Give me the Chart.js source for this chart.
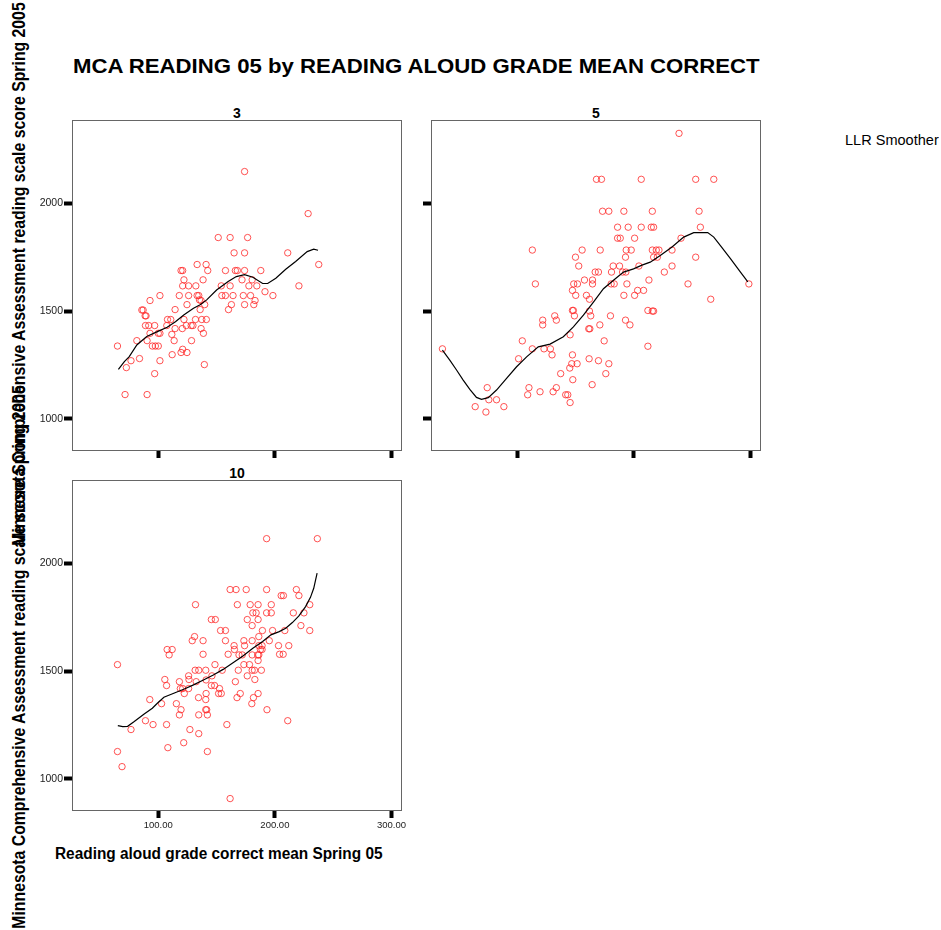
<!DOCTYPE html>
<html>
<head>
<meta charset="utf-8">
<script src="https://cdn.jsdelivr.net/npm/chart.js@4.4.1/dist/chart.umd.min.js"></script>
<style>
body { margin: 0; background: #fff; width: 941px; height: 930px; position: relative; overflow: hidden; font-family: "Liberation Sans", Arial, sans-serif; }
canvas { position: absolute; }
.txt { position: absolute; white-space: nowrap; color: #000; line-height: 1; }
</style>
</head>
<body>
<div class="txt" id="title" style="left:73px; top:55px; font-size:21px; font-weight:bold; transform-origin:left center;">MCA READING 05 by READING ALOUD GRADE MEAN CORRECT</div>
<div class="txt" id="legend" style="left:845px; top:132px; font-size:15px; transform-origin:left center;">LLR Smoother</div>
<div class="txt" id="xtitle" style="left:55px; top:846px; font-size:16px; font-weight:bold; transform-origin:left center;">Reading aloud grade correct mean Spring 05</div>
<div class="txt ytitle" id="ytitle1" style="left:19.5px; top:273.5px; font-size:17.5px; font-weight:bold;">Minnesota Comprehensive Assessment reading scale score Spring 2005</div>
<div class="txt ytitle" id="ytitle2" style="left:19.5px; top:656.5px; font-size:17.5px; font-weight:bold;">Minnesota Comprehensive Assessment reading scale score Spring 2005</div>
<div class="txt" id="p3" style="left:237px; top:106px; font-size:14px; font-weight:bold; transform:translateX(-50%);">3</div>
<div class="txt" id="p5" style="left:596px; top:106px; font-size:14px; font-weight:bold; transform:translateX(-50%);">5</div>
<div class="txt" id="p10" style="left:237px; top:466px; font-size:14px; font-weight:bold; transform:translateX(-50%);">10</div>

<canvas id="c3" width="382" height="370" style="left:30px; top:110px;"></canvas>
<canvas id="c5" width="382" height="370" style="left:389px; top:110px;"></canvas>
<canvas id="c10" width="382" height="370" style="left:30px; top:470px;"></canvas>

<script>
const panelNames = ['3', '5', '10'];
const xTicks = [100, 200, 300];
const yTicks = [1000, 1500, 2000];

// grade 3
const g3X = [174, 228.5, 151.4, 161.6, 176.6, 165, 174, 211, 133.3, 141, 237.6,
    119.5, 120.9, 142.4, 157.6, 166.1, 167.8, 174, 187.9,
    122, 138.4, 171.8, 180.5,
    120.9, 126, 132.2, 154, 161.6, 177.7, 184.5, 220.6, 191.5,
    101.4, 118, 126, 133.3, 134.7, 154.5, 157.6, 164.1, 172.9, 179.1, 198.3,
    92.9, 135.3, 136.7, 183, 124.6, 139.8, 162.7, 174, 181.9,
    114.4, 135.9, 160.2, 85.9, 87, 88.7, 89.5,
    107.9, 110.7, 122, 131.9, 137.3, 141.2,
    89, 91.8, 96.9, 107.3, 124, 128.2, 129.7,
    114.4, 120.6, 136.7, 92.9, 100, 101.4, 111.6, 138.7,
    81.6, 90.4, 113.6, 128.5, 65, 94.9, 97.5, 100,
    120.9, 119.5, 124.6, 111.9, 83.9, 76.6, 101.4, 139.5, 72.6, 96.9, 71.5, 90.4];
const g3Y = [2147, 1952, 1841, 1841, 1841, 1770, 1770, 1770, 1716, 1716, 1716,
    1688, 1688, 1688, 1688, 1688, 1688, 1688, 1688,
    1645, 1645, 1645, 1645,
    1617, 1617, 1617, 1617, 1617, 1617, 1617, 1617, 1590,
    1572, 1572, 1572, 1572, 1572, 1572, 1572, 1572, 1572, 1572, 1572,
    1549, 1552, 1549, 1549, 1530, 1530, 1530, 1530, 1530,
    1507, 1507, 1507, 1505, 1505, 1478, 1478,
    1461, 1461, 1461, 1461, 1461, 1461,
    1433, 1433, 1433, 1433, 1433, 1433, 1433,
    1419, 1419, 1419, 1397, 1397, 1397, 1392, 1397,
    1363, 1363, 1363, 1363, 1338, 1338, 1338, 1338,
    1323, 1308, 1308, 1298, 1280, 1270, 1270, 1252, 1238, 1210, 1113, 1113];
const g3FitX = [65.8, 70.9, 75.1, 81.6, 90.1, 99.2, 107.6, 114.7, 121.8, 130.2, 135.9, 141.5, 150, 159.9, 166.9, 174, 181.1, 189.5, 193.8, 200.8, 209.3, 217.8, 227.7, 233.3, 237];
const g3FitY = [1230, 1266, 1289, 1343, 1382, 1405, 1425, 1451, 1482, 1513, 1529, 1552, 1598, 1637, 1660, 1669, 1657, 1628, 1628, 1652, 1694, 1730, 1776, 1787, 1782];

// grade 5
const g5X = [238.7, 167.9, 172.2, 206.3, 253, 268.5,
    173.1, 178.5, 191.4, 215.8, 255.9,
    186, 195.1, 206.3, 214.9, 216.9, 257,
    186, 188.3, 200.6, 240.4,
    193.4, 197.7, 215.8, 219.2, 221.5, 232.7, 112.9, 155.6, 171.1,
    149.9, 192.8, 216.9, 220.1, 253,
    152.7, 182.2, 187.7, 204.3, 232.7,
    166.8, 169.6, 180.8, 190.3, 193.1, 226.1,
    157.6, 164.5, 212.9,
    115.5, 148.4, 151.6, 164.5, 180.5, 183.1, 194, 246.4, 298.6,
    147.3, 203.2, 208.3, 150.1, 159.3, 191.4, 200.6, 161.9, 265.9,
    147.3, 148.1, 161.9, 212, 215.8, 216.9,
    149, 132.1, 163, 179.9, 121.8, 133.5, 192.8, 121.8, 196.6, 170.8,
    161.3, 162.2, 145.3, 104.3, 174.5, 212,
    35.8, 112.9, 122.9, 128.4, 129.8, 147.3,
    101.1, 161.6, 169.6, 146.7, 151.3, 178.5, 145, 137.2, 175.9,
    147.6, 164.2, 74.2, 110, 133.5,
    119.5, 130.7, 108.9, 141.5, 143.3,
    75.6, 82.2, 145.3, 63.9, 88.5, 73.1];
const g5Y = [2324, 2111, 2111, 2111, 2111, 2111,
    1963, 1963, 1963, 1963, 1963,
    1889, 1889, 1889, 1889, 1889, 1889,
    1838, 1838, 1838, 1838,
    1783, 1783, 1783, 1783, 1783, 1783, 1783, 1783, 1783,
    1750, 1750, 1750, 1750, 1750,
    1709, 1709, 1709, 1709, 1709,
    1681, 1681, 1681, 1681, 1681, 1681,
    1644, 1644, 1644,
    1626, 1626, 1626, 1626, 1626, 1626, 1626, 1626, 1626,
    1596, 1596, 1596, 1573, 1573, 1573, 1573, 1555, 1555,
    1503, 1503, 1500, 1503, 1500, 1500,
    1478, 1478, 1478, 1478, 1458, 1458, 1458, 1436, 1436, 1436,
    1418, 1418, 1390, 1362, 1362, 1337,
    1325, 1325, 1325, 1325, 1297, 1297,
    1279, 1279, 1270, 1256, 1256, 1256, 1236, 1210, 1210,
    1182, 1159, 1145, 1145, 1145,
    1126, 1126, 1112, 1112, 1112,
    1089, 1089, 1076, 1057, 1057, 1032];
const g5FitX = [35.8, 42.1, 47.9, 53.6, 59.3, 65, 69.3, 75.1, 82.2, 90.8, 99.4, 108, 118, 128.1, 139.5, 148.1, 156.7, 165.3, 173.9, 182.5, 191.1, 199.7, 206.9, 214, 222.6, 232.7, 242.7, 251.3, 263.3, 268.5, 274.2, 282.8, 291.4, 297.7];
const g5FitY = [1319, 1273, 1227, 1180, 1137, 1100, 1091, 1099, 1134, 1188, 1242, 1288, 1334, 1347, 1381, 1427, 1481, 1542, 1604, 1643, 1681, 1696, 1713, 1727, 1758, 1797, 1843, 1864, 1864, 1843, 1804, 1743, 1681, 1635];

// grade 10
const g10X = [192.9, 236.4,
    161.6, 166.7, 175.4, 192.9, 218.4,
    205.4, 207.3, 220.6,
    131.9, 167.8, 178.8, 185.6, 196.9, 229.9,
    181.1, 183.9, 192.9, 196.9, 215.8, 224.9,
    145.5, 148.9, 176.3, 185.6, 180.5, 222.3,
    153.4, 157.6, 189.3, 198, 208.5, 229.9, 131.1, 186.2,
    129.1, 138.4, 157.6, 173.4, 180.5, 195.2,
    165, 174, 186.2, 189, 203.1, 211.9,
    107.6, 111.9, 165.3, 187.6, 189,
    109.3, 138.4, 159.9, 169.2, 172, 180.5, 185.3, 186.2, 204, 207.1,
    185.6, 148.6, 65, 173.4, 178.2,
    131.6, 134.7, 140.7, 154.8, 168.6, 180.5, 182.5, 188.4,
    126, 146, 176.3,
    105.6, 118.1, 126.3, 132.5, 141, 166.1, 182.8,
    107.1, 145.5, 148.3, 118.9, 120.9, 126, 152.5,
    122.3, 141, 151.7, 154, 170.3, 185.6,
    92.7, 134.5, 140.7, 167.5, 181.6, 102.8, 115.5, 180.2,
    119.5, 140.7, 141.5, 193.2, 118.1, 134.7, 142.1,
    89, 211, 95.5, 107.1, 158.8, 76.6, 127.1,
    134.7, 121.8, 108.2, 65, 142.1, 68.9, 161.6];
const g10Y = [2114, 2114,
    1878, 1878, 1878, 1878, 1878,
    1850, 1850, 1850,
    1808, 1808, 1808, 1808, 1808, 1808,
    1770, 1770, 1770, 1770, 1770, 1770,
    1739, 1739, 1739, 1739, 1711, 1711,
    1688, 1688, 1688, 1688, 1688, 1688, 1660, 1660,
    1641, 1641, 1641, 1641, 1641, 1641,
    1618, 1618, 1618, 1618, 1618, 1618,
    1600, 1600, 1600, 1600, 1600,
    1575, 1578, 1578, 1575, 1575, 1575, 1575, 1575, 1578, 1578,
    1549, 1530, 1530, 1530, 1530,
    1504, 1504, 1504, 1504, 1504, 1504, 1504, 1504,
    1478, 1478, 1478,
    1461, 1451, 1461, 1451, 1459, 1451, 1461,
    1433, 1433, 1433, 1419, 1419, 1419, 1419,
    1396, 1396, 1396, 1396, 1396, 1396,
    1368, 1377, 1368, 1377, 1377, 1349, 1349, 1349,
    1321, 1321, 1321, 1321, 1297, 1297, 1297,
    1270, 1270, 1252, 1252, 1252, 1229, 1229,
    1210, 1168, 1145, 1127, 1127, 1057, 909];
const g10FitX = [65.3, 69.5, 73.7, 79.4, 87.9, 94.9, 99.2, 104.8, 113.3, 121.8, 130.2, 138.7, 147.2, 155.6, 164.1, 172.6, 181.1, 189.5, 196.6, 203.7, 209.3, 215, 220.6, 226.3, 230.5, 233.3, 236.2];
const g10FitY = [1247, 1243, 1244, 1266, 1301, 1328, 1351, 1379, 1397, 1416, 1436, 1459, 1482, 1508, 1539, 1570, 1606, 1637, 1668, 1683, 1699, 1725, 1756, 1799, 1842, 1884, 1954];

const fontFamily = '"Liberation Sans", Arial, sans-serif';

// grey box round each plot area
const framePlugin = {
    id: 'frame',
    beforeDatasetsDraw(chart) {
        const a = chart.chartArea;
        const ctx = chart.ctx;
        ctx.save();
        ctx.strokeStyle = '#666';
        ctx.lineWidth = 1;
        ctx.strokeRect(a.left + 0.5, a.top + 0.5, a.right - a.left - 1, a.bottom - a.top);
        ctx.restore();
    }
};

function pairs(xs, ys) {
    return xs.map((x, i) => ({ x: x, y: ys[i] }));
}

function makePanel(id, xs, ys, fitXs, fitYs, showYLabels, showXLabels) {
    const ctx = document.getElementById(id).getContext('2d');
    return new Chart(ctx, {
        type: 'scatter',
        data: {
            datasets: [
                {
                    label: 'LLR Smoother',
                    data: pairs(fitXs, fitYs),
                    showLine: true,
                    borderColor: '#000',
                    borderWidth: 1.2,
                    pointRadius: 0,
                    tension: 0,
                    fill: false
                },
                {
                    label: 'points',
                    data: pairs(xs, ys),
                    pointRadius: 3.2,
                    pointBorderWidth: 1,
                    borderColor: 'rgba(255,40,40,0.8)',
                    backgroundColor: 'rgba(0,0,0,0)'
                }
            ]
        },
        options: {
            responsive: false,
            animation: false,
            layout: { padding: { left: 0, top: 10, right: 10, bottom: 0 } },
            plugins: { legend: { display: false }, tooltip: { enabled: false }, title: { display: false } },
            scales: {
                x: {
                    type: 'linear', min: 26, max: 309,
                    afterBuildTicks: s => { s.ticks = xTicks.map(v => ({ value: v })); },
                    afterFit: s => { s.height = 30; },
                    border: { display: false },
                    grid: { drawOnChartArea: false, drawTicks: true, tickLength: 8, tickWidth: 4, tickColor: '#000', color: '#000' },
                    ticks: {
                        autoSkip: false, maxRotation: 0, padding: 2,
                        color: showXLabels ? '#222' : 'rgba(0,0,0,0)',
                        font: { family: fontFamily, size: 9.5 },
                        callback: v => Number(v).toFixed(2)
                    }
                },
                y: {
                    type: 'linear', min: 856, max: 2386,
                    afterBuildTicks: s => { s.ticks = yTicks.map(v => ({ value: v })); },
                    afterFit: s => { s.width = 42; },
                    border: { display: false },
                    grid: { drawOnChartArea: false, drawTicks: true, tickLength: 8, tickWidth: 4, tickColor: '#000', color: '#000' },
                    ticks: {
                        autoSkip: false, padding: 1,
                        color: showYLabels ? '#222' : 'rgba(0,0,0,0)',
                        font: { family: fontFamily, size: 10.5 },
                        callback: v => String(v)
                    }
                }
            }
        },
        plugins: [framePlugin]
    });
}

makePanel('c3', g3X, g3Y, g3FitX, g3FitY, true, false);
makePanel('c5', g5X, g5Y, g5FitX, g5FitY, false, false);
makePanel('c10', g10X, g10Y, g10FitX, g10FitY, true, true);

// squeeze the texts to the widths they have in the picture
function fitText(id, w) {
    const el = document.getElementById(id);
    el.style.transform = 'scaleX(' + (w / el.offsetWidth) + ')';
}
function fitRotated(id, len) {
    const el = document.getElementById(id);
    el.style.transformOrigin = 'center center';
    el.style.transform = 'translate(-50%,-50%) rotate(-90deg) scaleX(' + (len / el.offsetWidth) + ')';
}
fitText('title', 687);
fitText('legend', 94);
fitText('xtitle', 328);
fitRotated('ytitle1', 543);
fitRotated('ytitle2', 543);
</script>
</body>
</html>
